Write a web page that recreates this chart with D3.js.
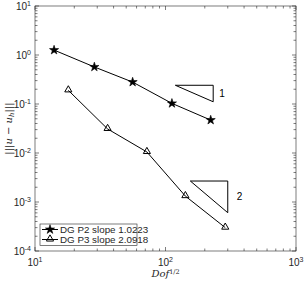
<!DOCTYPE html>
<html>
<head>
<meta charset="utf-8">
<script src="https://cdn.jsdelivr.net/npm/d3@7"></script>
<style>
  body { margin: 0; background: #fff; }
  text { font-family: "Liberation Sans", Arial, sans-serif; fill: #262626; }
</style>
</head>
<body>
<div id="chart"></div>
<script>
// data
var p2x = [14, 28.5, 56, 112, 222];
var p2y = [1.26, 0.57, 0.28, 0.103, 0.047];
var p3x = [18, 36, 72, 142, 287];
var p3y = [0.19, 0.031, 0.0105, 0.00132, 0.0003];
var tri1x = [119, 232];
var tri1y = [0.241, 0.111];
var tri2x = [155, 300];
var tri2y = [0.00268, 0.000605];
var xTickExp = [1, 2, 3];
var yTickExp = [-4, -3, -2, -1, 0, 1];
var legendLabels = ["DG P2 slope 1.0223", "DG P3 slope 2.0918"];

var W = 304, H = 282;
var margin = {top: 6, right: 8, bottom: 31, left: 35};
var width = W - margin.left - margin.right,
    height = H - margin.top - margin.bottom;

var svg = d3.select("#chart").append("svg")
    .attr("width", W).attr("height", H);

var x = d3.scaleLog().domain([10, 1000]).range([0, width]);
var y = d3.scaleLog().domain([1e-4, 10]).range([height, 0]);

var g = svg.append("g")
    .attr("transform", "translate(" + margin.left + "," + margin.top + ")");

// minor + major ticks, inward, on all four sides
var axisCol = "#262626";
function ticksFor(scale) {
    var out = [];
    var d = scale.domain();
    for (var e = Math.log10(d[0]); e < Math.log10(d[1]); e++) {
        for (var k = 1; k < 10; k++) out.push({v: k * Math.pow(10, e), major: k == 1});
    }
    out.push({v: d[1], major: true});
    return out;
}
var xt = ticksFor(x), yt = ticksFor(y);
var tickG = g.append("g").attr("stroke", axisCol).attr("stroke-width", 0.6);
xt.forEach(function(t) {
    var len = t.major ? 4 : 2.5;
    tickG.append("line").attr("x1", x(t.v)).attr("x2", x(t.v)).attr("y1", height).attr("y2", height - len);
    tickG.append("line").attr("x1", x(t.v)).attr("x2", x(t.v)).attr("y1", 0).attr("y2", len);
});
yt.forEach(function(t) {
    var len = t.major ? 4 : 2.5;
    tickG.append("line").attr("y1", y(t.v)).attr("y2", y(t.v)).attr("x1", 0).attr("x2", len);
    tickG.append("line").attr("y1", y(t.v)).attr("y2", y(t.v)).attr("x1", width).attr("x2", width - len);
});

g.append("rect").attr("width", width).attr("height", height)
    .attr("fill", "none").attr("stroke", axisCol).attr("stroke-width", 0.6);

// tick labels
xTickExp.forEach(function(e) {
    var t = g.append("text").attr("x", x(Math.pow(10, e))).attr("y", height + 15)
        .attr("text-anchor", "middle").style("font-size", "10px");
    t.append("tspan").text("10");
    t.append("tspan").attr("dy", -4).style("font-size", "7px").text(e);
});
yTickExp.forEach(function(e) {
    var t = g.append("text").attr("x", -4).attr("y", y(Math.pow(10, e)) + 4)
        .attr("text-anchor", "end").style("font-size", "10px");
    t.append("tspan").text("10");
    t.append("tspan").attr("dy", -4).style("font-size", "7px").text(e);
});

// axis labels
var xl = svg.append("text").attr("x", margin.left + width / 2).attr("y", 277)
    .attr("text-anchor", "middle").style("font-family", "'DejaVu Serif', 'Liberation Serif', serif")
    .style("font-style", "italic").style("font-size", "10px");
xl.append("tspan").text("Dof");
xl.append("tspan").attr("dy", -3.5).style("font-size", "6.5px").style("font-style", "normal").text("1/2");

var yl = svg.append("text")
    .attr("transform", "translate(12," + (margin.top + height / 2) + ") rotate(-90)")
    .attr("text-anchor", "middle").style("font-family", "'DejaVu Serif', 'Liberation Serif', serif")
    .style("font-size", "10px");
yl.append("tspan").text("|||");
yl.append("tspan").style("font-style", "italic").text("u");
yl.append("tspan").text(" − ");
yl.append("tspan").style("font-style", "italic").text("u");
yl.append("tspan").attr("dy", 2).style("font-size", "7px").style("font-style", "italic").text("h");
yl.append("tspan").attr("dy", -2).text("|||");

var line = d3.line().x(function(d) { return x(d[0]); }).y(function(d) { return y(d[1]); });
var p2 = d3.zip(p2x, p2y), p3 = d3.zip(p3x, p3y);

g.append("path").datum(p2).attr("d", line).attr("fill", "none").attr("stroke", "#000").attr("stroke-width", 1);
g.append("path").datum(p3).attr("d", line).attr("fill", "none").attr("stroke", "#000").attr("stroke-width", 1);

var star = d3.symbol().type(d3.symbolStar).size(26);
var tri = d3.symbol().type(d3.symbolTriangle).size(22);

g.selectAll(".star").data(p2).enter().append("path")
    .attr("d", star)
    .attr("transform", function(d) { return "translate(" + x(d[0]) + "," + y(d[1]) + ")"; })
    .attr("fill", "#000").attr("stroke", "#000").attr("stroke-width", 0.6);
g.selectAll(".tri").data(p3).enter().append("path")
    .attr("d", tri)
    .attr("transform", function(d) { return "translate(" + x(d[0]) + "," + (y(d[1]) - 0.5) + ")"; })
    .attr("fill", "none").attr("stroke", "#000").attr("stroke-width", 1);

// slope triangles
function slopeTri(xs, ys, label, dx) {
    var pts = [[xs[0], ys[0]], [xs[1], ys[0]], [xs[1], ys[1]], [xs[0], ys[0]]];
    g.append("path").datum(pts).attr("d", line)
        .attr("fill", "none").attr("stroke", "#000").attr("stroke-width", 1);
    g.append("text")
        .attr("x", x(xs[1]) + dx)
        .attr("y", (y(ys[0]) + y(ys[1])) / 2 + 3.5)
        .style("font-size", "10px").style("fill", "#000").text(label);
}
slopeTri(tri1x, tri1y, "1", 6);
slopeTri(tri2x, tri2y, "2", 9);

// legend
var lg = g.append("g").attr("transform", "translate(5," + (height - 27) + ")");
lg.append("rect").attr("width", 97).attr("height", 21.5)
    .attr("fill", "#fff").attr("stroke", axisCol).attr("stroke-width", 0.6);
legendLabels.forEach(function(lab, i) {
    var yy = 5.5 + i * 10;
    lg.append("line").attr("x1", 2).attr("x2", 18).attr("y1", yy).attr("y2", yy)
        .attr("stroke", "#000").attr("stroke-width", 1);
    lg.append("path").attr("d", i == 0 ? star : tri)
        .attr("transform", "translate(10," + (yy - (i == 0 ? 0 : 0.5)) + ")")
        .attr("fill", i == 0 ? "#000" : "none").attr("stroke", "#000")
        .attr("stroke-width", i == 0 ? 0.6 : 1);
    lg.append("text").attr("x", 20).attr("y", yy + 3.5)
        .style("font-size", "9.8px").text(lab);
});
</script>
</body>
</html>
